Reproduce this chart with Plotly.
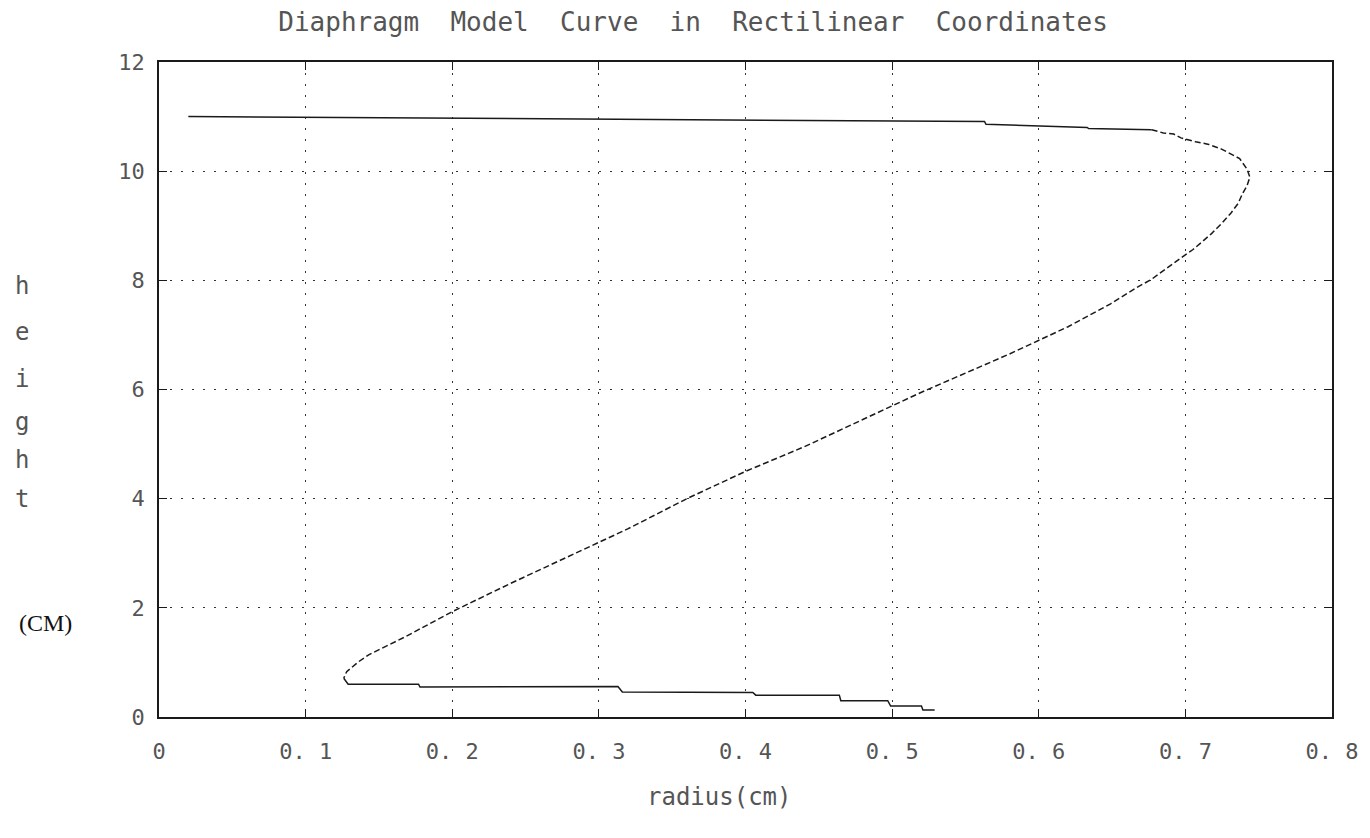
import plotly.graph_objects as go

# top edge of the diaphragm (solid steps)
top_radius = [0.02, 0.563, 0.564, 0.633, 0.634, 0.677]
top_height = [11.0, 10.91, 10.86, 10.80, 10.78, 10.76]

curve_radius = [0.677, 0.685, 0.692, 0.697, 0.707, 0.716, 0.725, 0.731, 0.737, 0.742, 0.744,
                0.742, 0.739, 0.736, 0.731, 0.725, 0.718, 0.712, 0.705, 0.699, 0.691, 0.685,
                0.677, 0.667, 0.660, 0.649, 0.62, 0.58, 0.55, 0.52, 0.48, 0.44, 0.40, 0.36,
                0.32, 0.28, 0.24, 0.20, 0.188, 0.177, 0.168, 0.159, 0.150, 0.143, 0.136,
                0.132, 0.128, 0.126]
curve_height = [10.76, 10.70, 10.68, 10.61, 10.54, 10.49, 10.40, 10.32, 10.23, 10.04, 9.89,
                9.73, 9.59, 9.41, 9.23, 9.05, 8.86, 8.72, 8.56, 8.45, 8.29, 8.18,
                8.02, 7.87, 7.75, 7.57, 7.15, 6.65, 6.30, 5.95, 5.45, 4.95, 4.50, 4.00,
                3.45, 2.95, 2.45, 1.93, 1.75, 1.60, 1.47, 1.35, 1.23, 1.14, 1.01,
                0.92, 0.83, 0.71]

# bottom edge (solid steps)
bottom_radius = [0.126, 0.129, 0.177, 0.178, 0.313, 0.316, 0.405, 0.407, 0.464, 0.465,
                 0.497, 0.499, 0.520, 0.521, 0.529]
bottom_height = [0.71, 0.60, 0.60, 0.55, 0.56, 0.46, 0.45, 0.40, 0.40, 0.30,
                 0.30, 0.20, 0.20, 0.13, 0.13]

x_ticks = [0, 0.1, 0.2, 0.3, 0.4, 0.5, 0.6, 0.7, 0.8]
x_tick_labels = ["0", "0. 1", "0. 2", "0. 3", "0. 4", "0. 5", "0. 6", "0. 7", "0. 8"]
y_ticks = [0, 2, 4, 6, 8, 10, 12]
y_tick_labels = ["0", "2", "4", "6", "8", "10", "12"]

INK = "#1a1a1a"
TEXT = "#555555"
MONO = "DejaVu Sans Mono"

fig = go.Figure()
fig.add_trace(go.Scatter(x=top_radius, y=top_height, mode="lines",
                         line=dict(color=INK, width=1.5)))
fig.add_trace(go.Scatter(x=curve_radius, y=curve_height, mode="lines",
                         line=dict(color=INK, width=1.5, dash="6px,3px")))
fig.add_trace(go.Scatter(x=bottom_radius, y=bottom_height, mode="lines",
                         line=dict(color=INK, width=1.5)))

axis_common = dict(
    showgrid=True, gridcolor="#333333", gridwidth=1, griddash="2px,9px",
    showline=True, linecolor=INK, linewidth=1.5, mirror="ticks",
    ticks="inside", ticklen=8, tickcolor=INK, automargin=False,
    zeroline=False, tickfont=dict(family=MONO, size=22, color=TEXT),
)

fig.update_xaxes(range=[0, 0.8], tickvals=x_ticks, ticktext=x_tick_labels,
                 ticklabelstandoff=14, **axis_common)
fig.update_yaxes(range=[0, 12], tickvals=y_ticks, ticktext=y_tick_labels,
                 ticklabelstandoff=8, **axis_common)

# vertical "height" label, one letter per line
letters = ["h", "e", "i", "g", "h", "t"]
letter_y = [7.9, 7.05, 6.2, 5.4, 4.7, 4.0]
annotations = []
for ch, yy in zip(letters, letter_y):
    annotations.append(dict(text=ch, x=-0.117, y=yy, xref="paper", yref="y",
                            xanchor="center", yanchor="middle", showarrow=False,
                            font=dict(family=MONO, size=24, color=TEXT)))
annotations.append(dict(text="(CM)", x=-0.097, y=1.72, xref="paper", yref="y",
                        xanchor="center", yanchor="middle", showarrow=False,
                        font=dict(family="Liberation Serif", size=24, color="#111111")))
annotations.append(dict(text="radius(cm)", x=0.478, y=-0.122, xref="paper", yref="paper",
                        xanchor="center", yanchor="middle", showarrow=False,
                        font=dict(family=MONO, size=24, color=TEXT)))

# page body adds an 8px margin, so the figure is a bit smaller than the window
fig.update_layout(
    width=1362, height=830,
    margin=dict(l=151, r=38, t=54, b=121, autoexpand=False),
    paper_bgcolor="white", plot_bgcolor="white",
    showlegend=False,
    title=dict(text="Diaphragm  Model  Curve  in  Rectilinear  Coordinates",
               x=0.503, xanchor="center", y=0.994, yanchor="top",
               pad=dict(t=0, b=0),
               font=dict(family=MONO, size=26, color=TEXT)),
    annotations=annotations,
)

fig.write_html("out.html")
